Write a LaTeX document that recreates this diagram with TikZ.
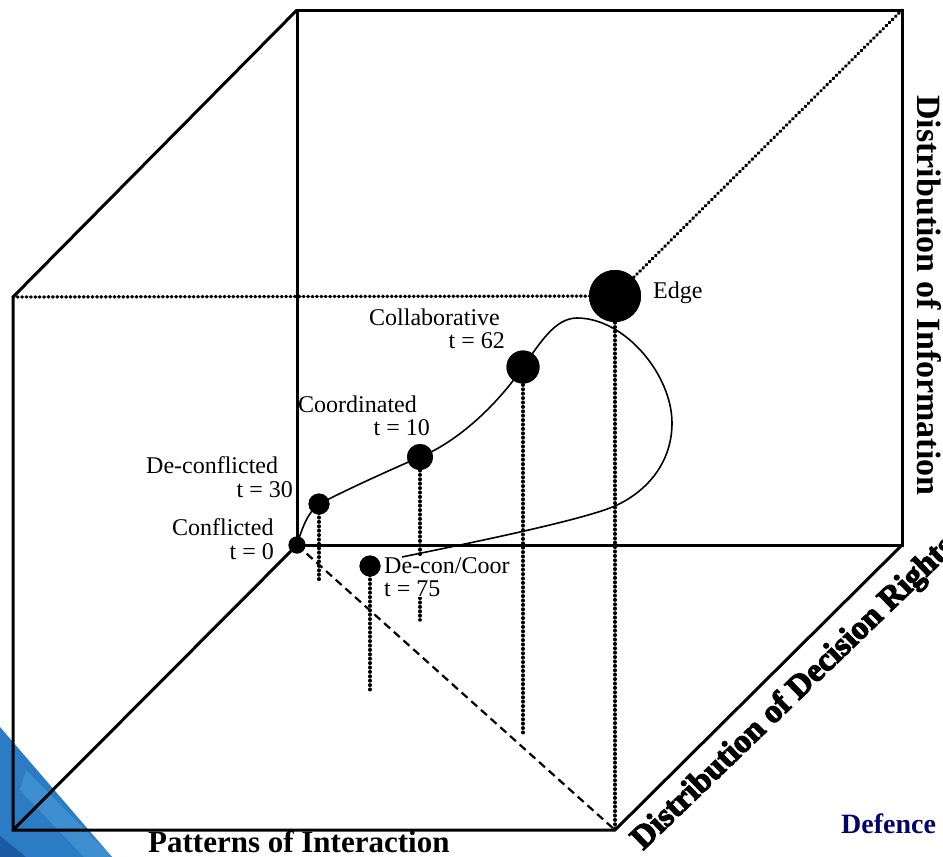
\documentclass[tikz,border=0pt]{standalone}
\usepackage{fontspec}
\setmainfont{Liberation Serif}
\newfontfamily\heavyfont{Liberation Serif}[BoldFeatures={FakeBold=3.5}]
\definecolor{blueA}{RGB}{43,124,196}
\definecolor{blueD}{RGB}{27,90,160}
\definecolor{blueL}{RGB}{62,142,210}
\definecolor{navy}{RGB}{5,5,105}
\begin{document}
\begin{tikzpicture}[x=1pt,y=-1pt,
  cube/.style={line width=3pt, line join=miter},
  dotline/.style={line width=3.4pt, line cap=round, dash pattern=on 0.6pt off 3.8pt},
  dashline/.style={line width=2.2pt, dash pattern=on 8pt off 5pt},
  traj/.style={line width=1.6pt},
  dot/.style={circle, fill=black, inner sep=0pt},
  lbl/.style={font=\fontsize{24}{23}\selectfont, inner sep=0pt},
  axislbl/.style={inner sep=0pt}]

\useasboundingbox (0,0) rectangle (943,857);

% decorative blue corner
\fill[blueA] (0,727) -- (112,857) -- (0,857) -- cycle;
\fill[blueL] (26,770) -- (112,857) -- (84,857) -- (20,790) -- cycle;
\fill[blueD] (0,836) -- (26,857) -- (0,857) -- cycle;

% cube corners
\coordinate (btl) at (297,10);
\coordinate (btr) at (902,10);
\coordinate (bbr) at (902,545);
\coordinate (bbl) at (297,545);
\coordinate (ftl) at (13,297);
\coordinate (fbl) at (13,830);
\coordinate (fbr) at (615,830);

% points on the trajectory
\coordinate (p1) at (577,318);
\coordinate (p2) at (672,423);
\coordinate (p3) at (615,506);
\coordinate (tend) at (402,557);

% drop-line feet
\coordinate (f1) at (319,583);
\coordinate (f2) at (420,620);
\coordinate (f4) at (370,692);
\coordinate (f3) at (523,735);

% state nodes
\node[dot, minimum size=17pt] (c0) at (297,545) {};
\node[dot, minimum size=21pt] (c1) at (319,504) {};
\node[dot, minimum size=26pt] (c2) at (420,457) {};
\node[dot, minimum size=33pt] (c3) at (523,367) {};
\node[dot, minimum size=52pt] (c5) at (615,296) {};
\node[dot, minimum size=21pt] (c4) at (370,566) {};

% cube solid edges
\draw[cube] (btl) -- (btr) -- (bbr) -- (bbl) -- cycle;
\draw[cube] (btl) -- (ftl) -- (fbl) -- (fbr) -- (bbr);
\draw[cube] (fbl) -- (bbl);
% hidden edges
\draw[dashline] (bbl) -- (fbr);
\draw[dotline] (ftl) -- (c5.center);
\draw[dotline] (c5.center) -- (btr);
\draw[dotline] (c5.center) -- (fbr);

% drop lines
\draw[dotline] (c1.center) -- (f1);
\draw[dotline] (c2.center) -- (f2);
\draw[dotline] (c4.center) -- (f4);
\draw[dotline] (c3.center) -- (f3);

% label of De-con/Coor (white background hides the drop line)
\node[lbl, fill=white, anchor=north west, align=left, inner sep=1pt] (l4) at (383,556) {De-con/Coor\\t = 75};

% trajectory
\draw[traj] (c0.center) .. controls (302,528) and (308,512) .. (c1.center)
  .. controls (350,488) and (390,470) .. (c2.center)
  .. controls (455,443) and (495,408) .. (c3.center)
  .. controls (540,343) and (555,318) .. (p1)
  .. controls (625,318) and (672,375) .. (p2)
  .. controls (672,460) and (650,490) .. (p3)
  .. controls (580,521) and (460,545) .. (tend);

% redraw dots on top
\node[dot, minimum size=17pt] at (c0) {};
\node[dot, minimum size=21pt] at (c1) {};
\node[dot, minimum size=26pt] at (c2) {};
\node[dot, minimum size=33pt] at (c3) {};
\node[dot, minimum size=52pt] at (c5) {};
\node[dot, minimum size=21pt] at (c4) {};

% state labels
\node[lbl, anchor=base west] (l5) at (653,298) {Edge};
\node[lbl, anchor=base east] (l3a) at (500,325) {Collaborative};
\node[lbl, anchor=base east] (l3b) at (505,348) {t = 62};
\node[lbl, anchor=base west] (l2a) at (298,412) {Coordinated};
\node[lbl, anchor=base east] (l2b) at (430,435) {t = 10};
\node[lbl, anchor=base west] (l1a) at (146,473) {De-conflicted};
\node[lbl, anchor=base east] (l1b) at (293,497) {t = 30};
\node[lbl, anchor=base west] (l0a) at (172,535) {Conflicted};
\node[lbl, anchor=base east] (l0b) at (274,559) {t = 0};

% axis labels
\node[axislbl, font=\bfseries\fontsize{31}{31}\selectfont, anchor=base west] (ax1) at (148,852) {Patterns of Interaction};
\node[axislbl, font=\bfseries\fontsize{34}{34}\selectfont, rotate=-90, anchor=base west] (ax2) at (917,95) {Distribution of Information};
\node[axislbl, font=\heavyfont\bfseries\fontsize{33}{33}\selectfont, rotate=44, anchor=base west] (ax3) at (643,851) {Distribution of Decision Rights};
\node[axislbl, font=\bfseries\fontsize{28}{28}\selectfont, text=navy, anchor=base west] (def) at (841,833) {Defence};
\end{tikzpicture}
\end{document}
